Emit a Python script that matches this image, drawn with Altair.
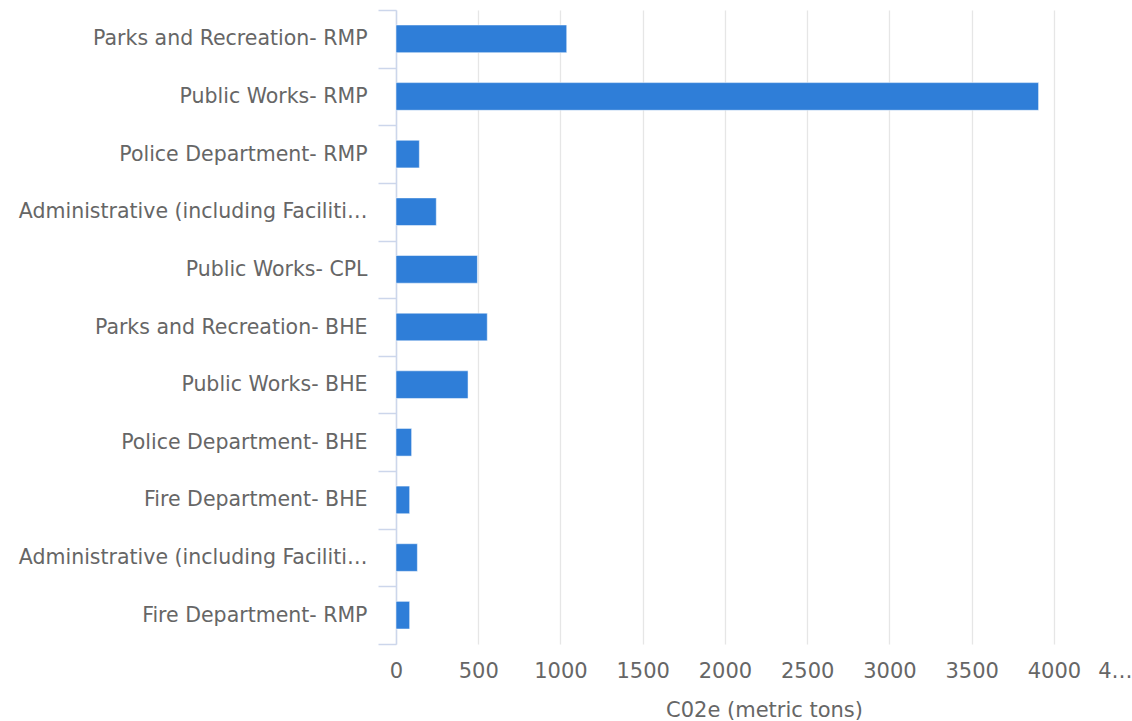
import altair as alt
import pandas as pd

categories = [
    "Parks and Recreation- RMP",
    "Public Works- RMP",
    "Police Department- RMP",
    "Administrative (including Facilities)- RMP",
    "Public Works- CPL",
    "Parks and Recreation- BHE",
    "Public Works- BHE",
    "Police Department- BHE",
    "Fire Department- BHE",
    "Administrative (including Facilities)- BHE",
    "Fire Department- RMP",
]
values = [1038, 3907, 142, 245, 495, 555, 438, 95, 83, 130, 83]

x_ticks = [0, 500, 1000, 1500, 2000, 2500, 3000, 3500, 4000, 4475]

df = pd.DataFrame({"name": categories, "co2e": values})

FONT = "DejaVu Sans"
LABEL = "#666666"
AXISBLUE = "#ccd6eb"

chart = alt.Chart(df).mark_bar(
    color="#2f7ed8", stroke="#ffffff", strokeWidth=1, strokeOpacity=0.5,
    height={"band": 0.48},
).encode(
    x=alt.X(
        "co2e:Q",
        scale=alt.Scale(domain=[0, 4475], nice=False, zero=True),
        axis=alt.Axis(
            title="C02e (metric tons)",
            values=x_ticks,
            format="d",
            labelExpr="datum.value > 4400 ? '4…' : datum.label",
            labelAlign={"condition": {"test": "datum.value > 4400", "value": "right"}, "value": "center"},
            gridColor={"condition": {"test": "datum.value > 4400", "value": "transparent"}, "value": "#e6e6e6"},
            gridWidth=1.3,
            domain=False,
            ticks=False,
            tickSize=0,
            labelPadding=16,
            labelFont=FONT,
            labelFontSize=21,
            labelColor=LABEL,
            labelFlush=False,
            labelOverlap=False,
            titleFont=FONT,
            titleFontSize=21,
            titleFontWeight="normal",
            titleColor=LABEL,
            titlePadding=18,
        ),
    ),
    y=alt.Y(
        "name:N",
        sort=categories,
        scale=alt.Scale(paddingInner=0, paddingOuter=0),
        axis=alt.Axis(
            title=None,
            grid=False,
            labelFont=FONT,
            labelFontSize=20.5,
            labelColor=LABEL,
            labelLimit=352,
            labelPadding=11,
            tickSize=18,
            tickColor=AXISBLUE,
            tickWidth=1.5,
            domainColor=AXISBLUE,
            domainWidth=1.5,
            tickBand="extent",
        ),
    ),
).properties(
    width=736,
    height=634,
    autosize=alt.AutoSizeParams(type="none"),
    padding={"left": 396, "top": 10, "right": 0, "bottom": 77},
).configure(background="white").configure_view(stroke=None)

chart.save("out.html", embed_options={"renderer": "svg", "actions": False})
